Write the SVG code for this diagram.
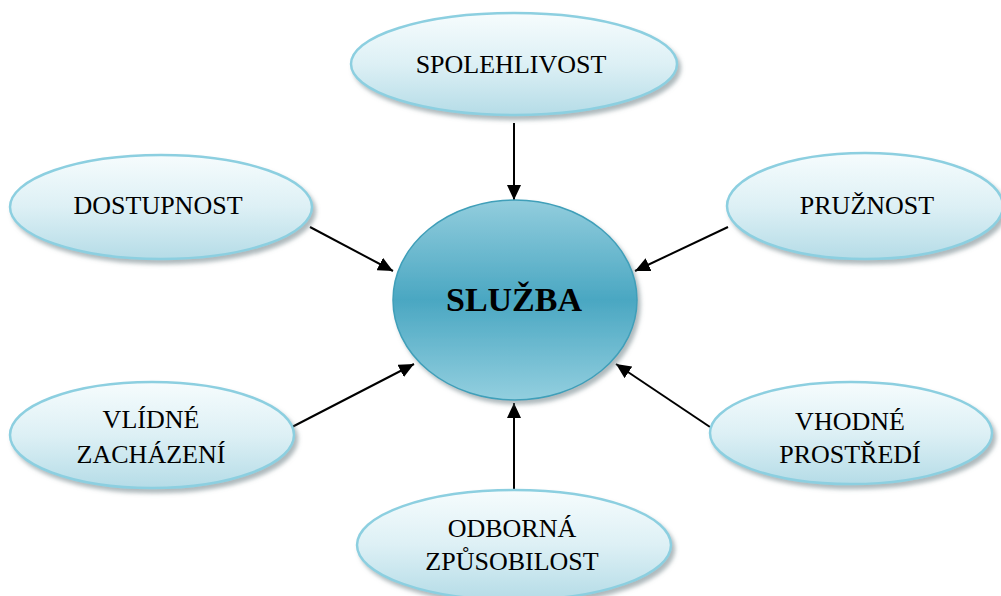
<svg xmlns="http://www.w3.org/2000/svg" width="1001" height="596" viewBox="0 0 1001 596">
  <defs>
    <linearGradient id="gLight" x1="0" y1="0" x2="0" y2="1">
      <stop offset="0" stop-color="#f6fcfd"/>
      <stop offset="0.5" stop-color="#ddf0f5"/>
      <stop offset="1" stop-color="#b5dce7"/>
    </linearGradient>
    <linearGradient id="gCenter" x1="0" y1="0" x2="0" y2="1">
      <stop offset="0" stop-color="#92cddd"/>
      <stop offset="0.5" stop-color="#4aa7c2"/>
      <stop offset="1" stop-color="#93cfdf"/>
    </linearGradient>
    <filter id="shadow" x="-10%" y="-10%" width="125%" height="135%">
      <feDropShadow dx="3" dy="4" stdDeviation="2" flood-color="#6d7f86" flood-opacity="0.55"/>
    </filter>
    <marker id="arrow" markerUnits="userSpaceOnUse" markerWidth="16" markerHeight="14" refX="15" refY="7" orient="auto">
      <path d="M0,0 L15,7 L0,14 z" fill="#000"/>
    </marker>
    <style>
      .node { fill: url(#gLight); stroke: #8ccfe0; stroke-width: 2.5; filter: url(#shadow); }
      .center { fill: url(#gCenter); stroke: #3f9fb9; stroke-width: 1.5; filter: url(#shadow); }
      .lbl { font-family: "Liberation Serif", "Times New Roman", serif; font-size: 26px; fill: #000; text-anchor: middle; }
      .main { font-family: "Liberation Serif", "Times New Roman", serif; font-size: 34px; font-weight: bold; fill: #000; text-anchor: middle; }
      .conn { stroke: #000; stroke-width: 2; fill: none; marker-end: url(#arrow); }
    </style>
  </defs>
  <rect width="1001" height="596" fill="#fff"/>

  <g id="connectors">
    <line class="conn" x1="514" y1="123" x2="514" y2="200"/>
    <line class="conn" x1="310" y1="227" x2="393" y2="271"/>
    <line class="conn" x1="728" y1="227" x2="635" y2="271"/>
    <line class="conn" x1="292" y1="427" x2="414" y2="364"/>
    <line class="conn" x1="710" y1="427" x2="616" y2="364"/>
    <line class="conn" x1="514" y1="490" x2="514" y2="403"/>
  </g>

  <g id="node-sluzba">
    <ellipse class="center" cx="515" cy="300" rx="122" ry="100"/>
    <text class="main" x="514" y="311">SLUŽBA</text>
  </g>

  <g id="node-spolehlivost">
    <ellipse class="node" cx="514" cy="64" rx="163" ry="51"/>
    <text class="lbl" x="511" y="73">SPOLEHLIVOST</text>
  </g>

  <g id="node-dostupnost">
    <ellipse class="node" cx="161" cy="207" rx="151" ry="52"/>
    <text class="lbl" x="158" y="214">DOSTUPNOST</text>
  </g>

  <g id="node-pruznost">
    <ellipse class="node" cx="865" cy="206" rx="138" ry="53"/>
    <text class="lbl" x="867" y="214">PRUŽNOST</text>
  </g>

  <g id="node-vlidne">
    <ellipse class="node" cx="152" cy="435" rx="142" ry="53"/>
    <text class="lbl" x="151" y="428">VLÍDNÉ</text>
    <text class="lbl" x="151" y="463">ZACHÁZENÍ</text>
  </g>

  <g id="node-vhodne">
    <ellipse class="node" cx="851" cy="433" rx="141" ry="51"/>
    <text class="lbl" x="850" y="430">VHODNÉ</text>
    <text class="lbl" x="850" y="463">PROSTŘEDÍ</text>
  </g>

  <g id="node-odborna">
    <ellipse class="node" cx="514" cy="545" rx="157" ry="55"/>
    <text class="lbl" x="512" y="537">ODBORNÁ</text>
    <text class="lbl" x="512" y="570">ZPŮSOBILOST</text>
  </g>
</svg>
